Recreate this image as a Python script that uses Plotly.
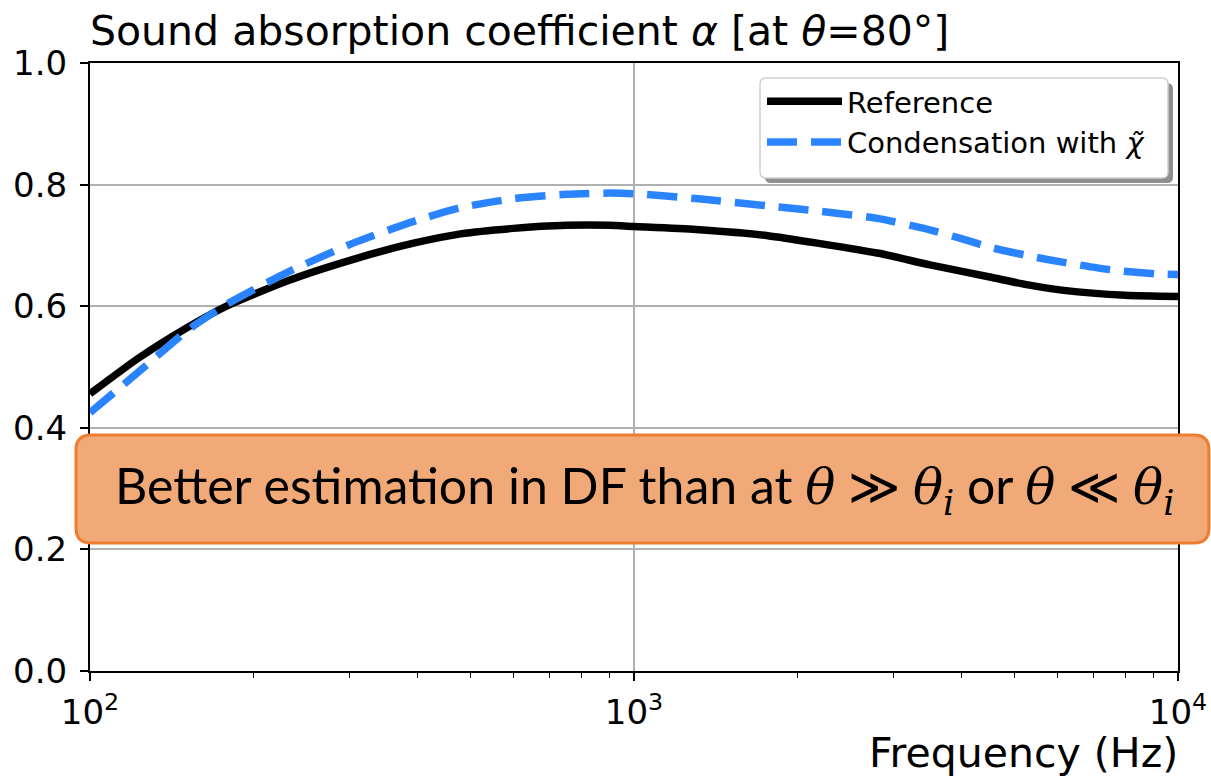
import plotly.graph_objects as go

# Frequencies (Hz) and absorption coefficients at 80 deg incidence
freq_ref = [100, 122.5, 151, 179, 231, 307, 395, 480, 600, 753, 900, 1000,
            1300, 1762, 2200, 2818, 3500, 4508, 5300, 6166, 8000, 10000]
alpha_ref = [0.456, 0.514, 0.565, 0.601, 0.642, 0.678, 0.704, 0.719, 0.728, 0.733, 0.733, 0.731,
             0.726, 0.716, 0.703, 0.687, 0.668, 0.648, 0.635, 0.626, 0.618, 0.616]

freq_cond = [100, 122.5, 151, 179, 231, 307, 395, 480, 601, 750, 900, 1000,
             1300, 1762, 2200, 2818, 3413, 4000, 4508, 5300, 6166, 7500, 9140, 10000]
alpha_cond = [0.425, 0.491, 0.560, 0.604, 0.656, 0.705, 0.740, 0.762, 0.777, 0.784, 0.786, 0.785,
              0.777, 0.765, 0.756, 0.744, 0.728, 0.711, 0.697, 0.683, 0.672, 0.660, 0.653, 0.652]

y_ticks = [0.0, 0.2, 0.4, 0.6, 0.8, 1.0]
y_tick_labels = ["0.0", "0.2", "0.4", "0.6", "0.8", "1.0"]
x_ticks = [100, 1000, 10000]
x_tick_labels = ["10<sup>2</sup>", "10<sup>3</sup>", "10<sup>4</sup>"]
x_minor = [200, 300, 400, 500, 600, 700, 800, 900,
           2000, 3000, 4000, 5000, 6000, 7000, 8000, 9000]

W, H = 1211, 777
L, R, T, B = 90, 33, 63, 106
PW, PH = W - L - R, H - T - B


def px(X):
    return (X - L) / PW


def py(Y):
    return (H - B - Y) / PH


def rounded_rect(x0, y0, x1, y1, r):
    # pixel box -> paper-space SVG path with rounded corners
    pts = [
        f"M{px(x0 + r)},{py(y0)}",
        f"L{px(x1 - r)},{py(y0)}",
        f"Q{px(x1)},{py(y0)} {px(x1)},{py(y0 + r)}",
        f"L{px(x1)},{py(y1 - r)}",
        f"Q{px(x1)},{py(y1)} {px(x1 - r)},{py(y1)}",
        f"L{px(x0 + r)},{py(y1)}",
        f"Q{px(x0)},{py(y1)} {px(x0)},{py(y1 - r)}",
        f"L{px(x0)},{py(y0 + r)}",
        f"Q{px(x0)},{py(y0)} {px(x0 + r)},{py(y0)}",
        "Z",
    ]
    return " ".join(pts)


FONT = "DejaVu Sans"
THETA = '<span style="font-family:DejaVu Serif"><i>θ</i></span>'
THETA_I = '<span style="font-family:DejaVu Serif"><i>θ<sub>i</sub></i></span>'

fig = go.Figure()
fig.add_trace(go.Scatter(
    x=freq_ref, y=alpha_ref, mode="lines", name="Reference",
    line=dict(color="#000000", width=7.5, shape="spline", smoothing=0.6),
    legendgroup="a",
))
fig.add_trace(go.Scatter(
    x=freq_cond, y=alpha_cond, mode="lines",
    name="Condensation with <i>χ̃</i>",
    line=dict(color="#2b84ff", width=7.5, dash="30px,14px", shape="spline", smoothing=0.6),
    legendgroup="b",
))

shapes = [
    # legend shadow and frame
    dict(type="path", xref="paper", yref="paper",
         path=rounded_rect(765, 83, 1173, 183, 6),
         fillcolor="#8e8e8e", line=dict(width=0), layer="above"),
    dict(type="path", xref="paper", yref="paper",
         path=rounded_rect(760, 78, 1168, 178, 6),
         fillcolor="#ffffff", line=dict(color="#d0d0d0", width=1.5), layer="above"),
    # highlighted remark box
    dict(type="path", xref="paper", yref="paper",
         path=rounded_rect(76, 435, 1209, 543, 15),
         fillcolor="#f1a978", line=dict(color="#ed7d31", width=3), layer="above"),
]

annotations = [
    dict(text="Sound absorption coefficient <i>α</i> [at <i>θ</i>=80°]",
         xref="paper", yref="paper", x=0.0, y=1.0, xanchor="left", yanchor="bottom",
         yshift=6, xshift=-2, showarrow=False,
         font=dict(family=FONT, size=41, color="#000000")),
    dict(text="Frequency (Hz)",
         xref="paper", yref="paper", x=1.0, y=0.0, xanchor="right", yanchor="top",
         yshift=-56, xshift=2, showarrow=False,
         font=dict(family=FONT, size=41, color="#000000")),
    dict(text=f"Better estimation in DF than at {THETA} ≫ {THETA_I} or {THETA} ≪ {THETA_I}",
         xref="paper", yref="paper", x=px(644), y=py(489),
         xanchor="center", yanchor="middle", showarrow=False,
         font=dict(family="Lato", size=50, color="#000000")),
]

fig.update_layout(
    width=W, height=H,
    margin=dict(l=L, r=R, t=T, b=B, pad=0, autoexpand=False),
    paper_bgcolor="#ffffff", plot_bgcolor="#ffffff",
    font=dict(family=FONT, color="#000000"),
    showlegend=True,
    legend=dict(
        x=px(762), y=py(76), xanchor="left", yanchor="top",
        bgcolor="rgba(0,0,0,0)", borderwidth=0,
        font=dict(family=FONT, size=29, color="#000000"),
        itemwidth=75, tracegroupgap=7, traceorder="normal",
    ),
    shapes=shapes,
    annotations=annotations,
)

fig.update_xaxes(
    type="log", range=[2, 4], automargin=False,
    tickvals=x_ticks, ticktext=x_tick_labels,
    ticks="outside", ticklen=8, tickwidth=1.8, tickcolor="#000000",
    tickfont=dict(family=FONT, size=34, color="#000000"),
    showgrid=True, gridcolor="#b0b0b0", gridwidth=1.8,
    showline=True, linecolor="#000000", linewidth=2, mirror=True,
    zeroline=False,
    minor=dict(tickvals=x_minor, ticks="outside", ticklen=5, tickwidth=1.4,
               tickcolor="#000000", showgrid=False),
    ticklabelstandoff=2,
)
fig.update_yaxes(
    range=[0, 1], automargin=False,
    tickvals=y_ticks, ticktext=y_tick_labels,
    ticks="outside", ticklen=8, tickwidth=1.8, tickcolor="#000000",
    tickfont=dict(family=FONT, size=34, color="#000000"),
    showgrid=True, gridcolor="#b0b0b0", gridwidth=1.8,
    showline=True, linecolor="#000000", linewidth=2, mirror=True,
    zeroline=False,
    ticklabelstandoff=6,
)

fig.write_html("out.html")
